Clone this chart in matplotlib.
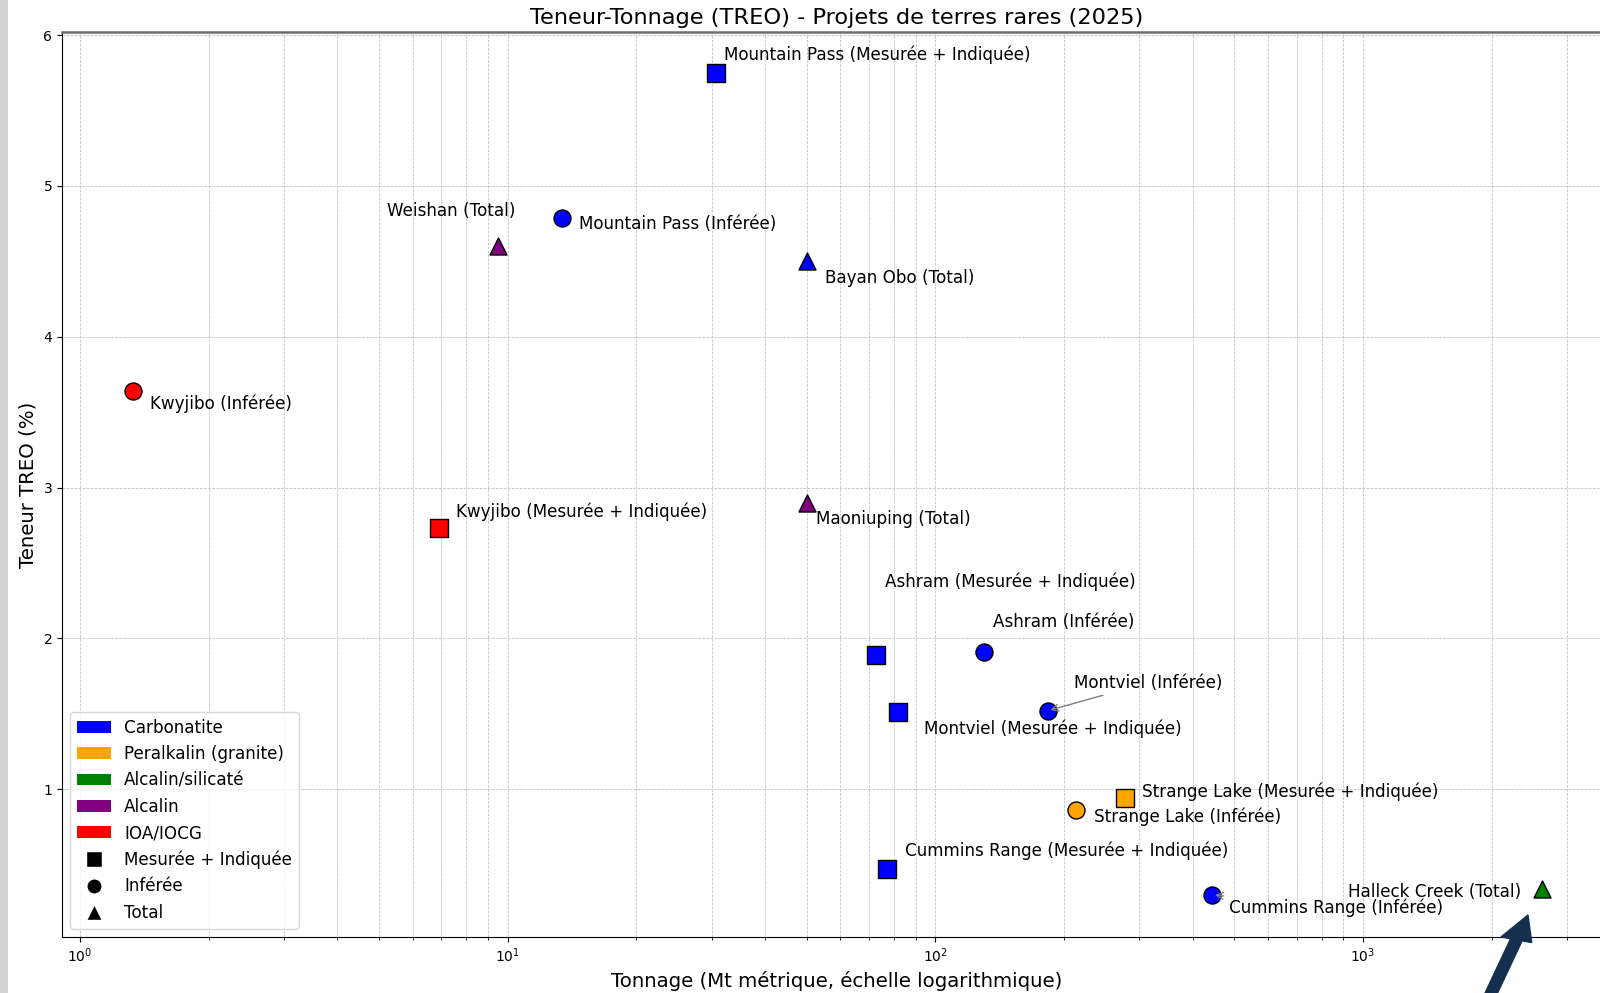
import matplotlib
matplotlib.use("Agg")
import matplotlib.pyplot as plt
from matplotlib.patches import Patch, Rectangle, FancyArrow
from matplotlib.lines import Line2D

# --- données ---
projets = [
    "Mountain Pass (Mesurée + Indiquée)", "Mountain Pass (Inférée)", "Weishan (Total)",
    "Bayan Obo (Total)", "Kwyjibo (Inférée)", "Kwyjibo (Mesurée + Indiquée)",
    "Maoniuping (Total)", "Ashram (Mesurée + Indiquée)", "Ashram (Inférée)",
    "Montviel (Mesurée + Indiquée)", "Montviel (Inférée)", "Strange Lake (Mesurée + Indiquée)",
    "Strange Lake (Inférée)", "Cummins Range (Mesurée + Indiquée)", "Cummins Range (Inférée)",
    "Halleck Creek (Total)",
]
tonnage = [30.7, 13.4, 9.5, 50.0, 1.33, 6.9, 50.1, 72.8, 130.0, 82.0, 183.0, 277.0, 213.0, 77.0, 444.0, 2617.0]
teneur = [5.75, 4.79, 4.60, 4.50, 3.64, 2.73, 2.90, 1.89, 1.91, 1.51, 1.52, 0.94, 0.86, 0.47, 0.30, 0.34]
gisement = ["Carbonatite", "Carbonatite", "Alcalin", "Carbonatite", "IOA/IOCG", "IOA/IOCG",
            "Alcalin", "Carbonatite", "Carbonatite", "Carbonatite", "Carbonatite",
            "Peralkalin (granite)", "Peralkalin (granite)", "Carbonatite", "Carbonatite",
            "Alcalin/silicaté"]
categorie = ["Mesurée + Indiquée", "Inférée", "Total", "Total", "Inférée", "Mesurée + Indiquée",
             "Total", "Mesurée + Indiquée", "Inférée", "Mesurée + Indiquée", "Inférée",
             "Mesurée + Indiquée", "Inférée", "Mesurée + Indiquée", "Inférée", "Total"]

couleurs = {"Carbonatite": "blue", "Peralkalin (granite)": "orange", "Alcalin/silicaté": "green",
            "Alcalin": "purple", "IOA/IOCG": "red"}
marqueurs = {"Mesurée + Indiquée": "s", "Inférée": "o", "Total": "^"}

# décalages des étiquettes (pixels) et alignement
decalages = [(8, 18), (17, -6), (17, 35), (18, -17), (17, -13), (17, 16), (9, -16), (9, 73),
             (9, 30), (26, -16), (26, 28), (17, 6), (18, -6), (18, 18), (17, -13), (-21, -3)]
alignement = ["left"] * 16
alignement[2] = "right"
alignement[15] = "right"
fleches = [10, 14]

W, H = 1600, 993
fig = plt.figure(figsize=(W / 100, H / 100), dpi=100)
ax = fig.add_axes([62 / W, (H - 937) / H, (1611 - 62) / W, (937 - 32) / H])

for i in range(len(projets)):
    ax.scatter(tonnage[i], teneur[i], s=150, c=couleurs[gisement[i]],
               marker=marqueurs[categorie[i]], edgecolors="black", linewidths=1, zorder=3)
    props = dict(arrowstyle="->", color="gray", lw=1) if i in fleches else None
    ax.annotate(projets[i], (tonnage[i], teneur[i]), xytext=decalages[i],
                textcoords="offset pixels", ha=alignement[i], va="center",
                fontsize=12.1, arrowprops=props, zorder=4)

ax.set_xscale("log")
ax.set_xlim(0.908, 3800)
ax.set_ylim(0.02, 6.02)
ax.grid(True, which="both", linestyle="--", linewidth=0.55, color="#bdbdbd")
ax.tick_params(labelsize=10)
ax.spines["top"].set_color("#6e6e6e")
ax.spines["top"].set_linewidth(1.8)
ax.set_title("Teneur-Tonnage (TREO) - Projets de terres rares (2025)", fontsize=16.2, pad=6)
ax.set_xlabel("Tonnage (Mt métrique, échelle logarithmique)", fontsize=14.2)
ax.set_ylabel("Teneur TREO (%)", fontsize=14.2)

handles = [Patch(facecolor=c, label=k) for k, c in couleurs.items()]
handles += [Line2D([0], [0], marker=m, color="w", markerfacecolor="black", markersize=11, label=k)
            for k, m in marqueurs.items()]
ax.legend(handles=handles, loc="lower left", fontsize=12.1)

# bandeau gris et flèche de la capture
fig.patches.append(Rectangle((0, 0), 7.5 / W, 1, transform=fig.transFigure,
                             facecolor="#d3d3d3", edgecolor="none"))
fig.patches.append(FancyArrow(1488 / W, (H - 1000) / H, 40 / W, 85 / H, width=0.0075,
                              head_width=0.02, head_length=0.026, length_includes_head=True,
                              transform=fig.transFigure, color="#15304f"))

fig.savefig("out.png", dpi=100)
